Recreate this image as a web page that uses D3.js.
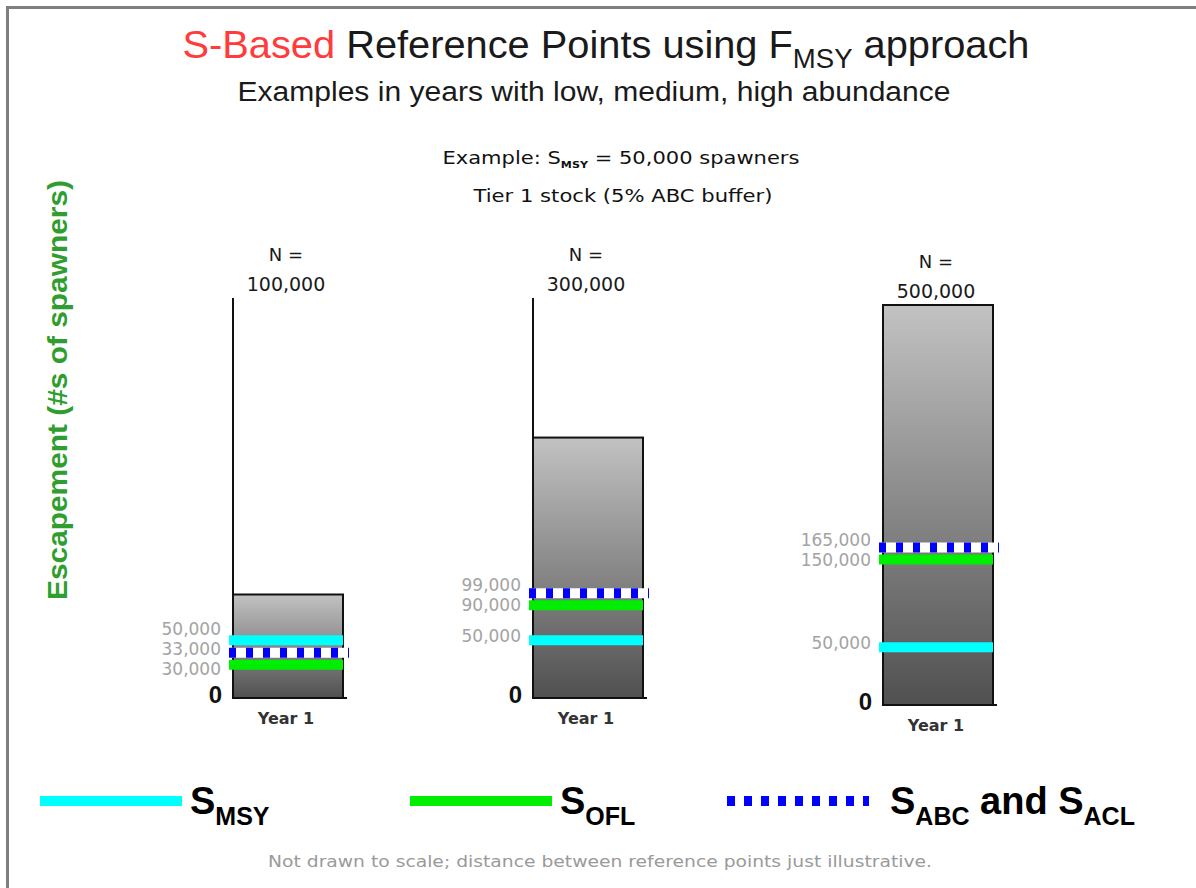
<!DOCTYPE html>
<html>
<head>
<meta charset="utf-8">
<script src="https://cdn.jsdelivr.net/npm/d3@7"></script>
<style>
    html, body { margin: 0; padding: 0; background: #fff; }
    svg { display: block; }
</style>
</head>
<body>
<svg id="chart" width="1196" height="888"></svg>
<script>
// data
var abundance = [100000, 300000, 500000];
var sMSY = [50000, 50000, 50000];
var sOFL = [30000, 90000, 150000];
var sABC = [33000, 99000, 165000];
var yearLabels = ["Year 1", "Year 1", "Year 1"];
var legendKeys = ["MSY", "OFL", "ABC"];

// layout
var panelLeft = [233, 533, 883],
    panelBase = [698, 698, 705],
    barWidth = 110,
    axisHeight = 400,
    fmt = d3.format(",");

var svg = d3.select("#chart");

// frame
svg.append("path")
    .attr("d", "M7.5,888V7.5H1196")
    .style("fill", "none")
    .style("stroke", "#7f7f7f")
    .style("stroke-width", 3);

// titles
var title = svg.append("text")
    .attr("x", 606)
    .attr("y", 58)
    .attr("text-anchor", "middle")
    .attr("textLength", 847)
    .attr("lengthAdjust", "spacingAndGlyphs")
    .style("font-family", "Liberation Sans, Arial, sans-serif")
    .style("font-size", "39px")
    .style("fill", "#1a1a1a");
title.append("tspan").style("fill", "#ff3b3b").text("S-Based");
title.append("tspan").text(" Reference Points using F");
title.append("tspan").attr("dy", 10).style("font-size", "27px").text("MSY");
title.append("tspan").attr("dy", -10).text(" approach");

svg.append("text")
    .attr("x", 594)
    .attr("y", 101)
    .attr("text-anchor", "middle")
    .attr("textLength", 713)
    .attr("lengthAdjust", "spacingAndGlyphs")
    .style("font-family", "Liberation Sans, Arial, sans-serif")
    .style("font-size", "27px")
    .style("fill", "#1a1a1a")
    .text("Examples in years with low, medium, high abundance");

var ex = svg.append("text")
    .attr("x", 621)
    .attr("y", 164)
    .attr("text-anchor", "middle")
    .attr("textLength", 357)
    .attr("lengthAdjust", "spacingAndGlyphs")
    .style("font-family", "DejaVu Sans, sans-serif")
    .style("font-size", "17px")
    .style("fill", "#111");
ex.append("tspan").text("Example:  S");
ex.append("tspan").attr("dy", 4).style("font-size", "9px").style("font-weight", "bold").text("MSY");
ex.append("tspan").attr("dy", -4).text(" = " + fmt(sMSY[0]) + " spawners");

svg.append("text")
    .attr("x", 623)
    .attr("y", 202)
    .attr("text-anchor", "middle")
    .attr("textLength", 299)
    .attr("lengthAdjust", "spacingAndGlyphs")
    .style("font-family", "DejaVu Sans, sans-serif")
    .style("font-size", "17px")
    .style("fill", "#111")
    .text("Tier 1 stock (5% ABC buffer)");

svg.append("text")
    .attr("transform", "translate(67,390) rotate(-90)")
    .attr("text-anchor", "middle")
    .attr("textLength", 420)
    .attr("lengthAdjust", "spacingAndGlyphs")
    .style("font-family", "Liberation Sans, Arial, sans-serif")
    .style("font-weight", "bold")
    .style("font-size", "28px")
    .style("fill", "#2f9e2f")
    .text("Escapement (#s of spawners)");

// bar gradient
var grad = svg.append("defs").append("linearGradient")
    .attr("id", "barFill")
    .attr("x1", 0).attr("y1", 0).attr("x2", 0).attr("y2", 1);
grad.append("stop").attr("offset", "0%").attr("stop-color", "#c2c2c2");
grad.append("stop").attr("offset", "100%").attr("stop-color", "#505050");

// not drawn to scale: a shared power scale keeps the illustrative spacing
var h = d3.scalePow()
    .exponent(0.84)
    .domain([0, d3.max(abundance)])
    .range([0, axisHeight]);

var lineStyle = {
    MSY: {color: "#00ffff", ext: 0},
    OFL: {color: "#00ee00", ext: 0},
    ABC: {color: "#0000ff", ext: 6}
};

// push apart items that sit closer than gap (pixel y)
function spread(items, gap) {
    items.sort(function (a, b) { return a.y - b.y; });
    for (var it = 0; it < 60; it++) {
        for (var i = 1; i < items.length; i++) {
            var d = items[i].y - items[i - 1].y;
            if (d < gap) {
                var m = (gap - d) / 2;
                items[i - 1].y -= m;
                items[i].y += m;
            }
        }
    }
    return items;
}

abundance.forEach(function (n, i) {
    var x0 = panelLeft[i],
        base = panelBase[i],
        cx = x0 + barWidth / 2,
        g = svg.append("g");

    var y = function (v) { return base - h(v); };

    // vertical axis
    g.append("line")
        .attr("x1", x0).attr("x2", x0)
        .attr("y1", y(d3.max(abundance))).attr("y2", base)
        .style("stroke", "#111")
        .style("stroke-width", 2);

    g.append("rect")
        .attr("x", x0)
        .attr("y", y(n))
        .attr("width", barWidth)
        .attr("height", h(n))
        .style("fill", "url(#barFill)")
        .style("stroke", "#111")
        .style("stroke-width", 2);

    g.append("line")
        .attr("x1", x0 + barWidth).attr("x2", x0 + barWidth + 4)
        .attr("y1", base).attr("y2", base)
        .style("stroke", "#111")
        .style("stroke-width", 2);

    var refs = [
        {key: "MSY", v: sMSY[i]},
        {key: "OFL", v: sOFL[i]},
        {key: "ABC", v: sABC[i]}
    ];
    refs.forEach(function (r) { r.y = y(r.v); });
    spread(refs, 12);

    refs.forEach(function (r) {
        var st = lineStyle[r.key];
        var x1 = x0 - 4, x2 = x0 + barWidth + st.ext;
        if (r.key === "ABC") {
            g.append("line")
                .attr("x1", x1).attr("x2", x2).attr("y1", r.y).attr("y2", r.y)
                .style("stroke", "#fff").style("stroke-width", 10);
            g.append("line")
                .attr("x1", x1).attr("x2", x2).attr("y1", r.y).attr("y2", r.y)
                .style("stroke", st.color).style("stroke-width", 10)
                .style("stroke-dasharray", "7,10");
        } else {
            g.append("line")
                .attr("x1", x1).attr("x2", x2).attr("y1", r.y).attr("y2", r.y)
                .style("stroke", st.color).style("stroke-width", 10);
        }
    });

    var labels = refs.map(function (r) { return {y: r.y - 4, v: r.v}; });
    spread(labels, 20);
    g.selectAll(".val")
        .data(labels)
        .enter().append("text")
        .attr("class", "val")
        .attr("x", x0 - 12)
        .attr("y", function (d) { return d.y; })
        .attr("dy", "0.36em")
        .attr("text-anchor", "end")
        .style("font-family", "DejaVu Sans, sans-serif")
        .style("font-size", "17px")
        .style("fill", "#a3a3a3")
        .text(function (d) { return fmt(d.v); });

    g.append("text")
        .attr("x", x0 - 11)
        .attr("y", y(0) + 5)
        .attr("text-anchor", "end")
        .style("font-family", "Liberation Sans, Arial, sans-serif")
        .style("font-weight", "bold")
        .style("font-size", "24px")
        .style("fill", "#111")
        .text("0");

    var top = y(d3.max(abundance));
    g.append("text")
        .attr("x", cx - 2)
        .attr("y", top - 37)
        .attr("text-anchor", "middle")
        .style("font-family", "DejaVu Sans, sans-serif")
        .style("font-size", "18px")
        .style("fill", "#1a1a1a")
        .text("N =");
    g.append("text")
        .attr("x", cx - 2)
        .attr("y", top - 7)
        .attr("text-anchor", "middle")
        .style("font-family", "DejaVu Sans, sans-serif")
        .style("font-size", "19px")
        .style("fill", "#1a1a1a")
        .text(fmt(n));

    g.append("text")
        .attr("x", cx - 2)
        .attr("y", base + 26)
        .attr("text-anchor", "middle")
        .style("font-family", "DejaVu Sans, sans-serif")
        .style("font-size", "16px")
        .style("font-weight", "bold")
        .style("fill", "#333")
        .text(yearLabels[i]);
});

// legend
var legendX = [40, 410, 727],
    legendY = 801,
    legendText = [
        [["S", ""], ["MSY", "sub"]],
        [["S", ""], ["OFL", "sub"]],
        [["S", ""], ["ABC", "sub"], [" and S", ""], ["ACL", "sub"]]
    ];

legendKeys.forEach(function (k, i) {
    var st = lineStyle[k];
    var lg = svg.append("g").attr("transform", "translate(" + legendX[i] + "," + legendY + ")");
    lg.append("line")
        .attr("x1", 0).attr("x2", 142)
        .style("stroke", st.color)
        .style("stroke-width", 10)
        .style("stroke-dasharray", k === "ABC" ? "8,9" : null);
    var t = lg.append("text")
        .attr("x", k === "ABC" ? 163 : 150)
        .attr("y", 13)
        .style("font-family", "Liberation Sans, Arial, sans-serif")
        .style("font-weight", "bold")
        .style("font-size", "38px")
        .style("fill", "#000");
    var shift = 0;
    legendText[i].forEach(function (p) {
        var dy = p[1] === "sub" ? 11 - shift : -shift;
        shift = p[1] === "sub" ? 11 : 0;
        t.append("tspan")
            .attr("dy", dy)
            .style("font-size", p[1] === "sub" ? "25px" : "38px")
            .text(p[0]);
    });
});

svg.append("text")
    .attr("x", 600)
    .attr("y", 867)
    .attr("text-anchor", "middle")
    .attr("textLength", 664)
    .attr("lengthAdjust", "spacingAndGlyphs")
    .style("font-family", "DejaVu Sans, sans-serif")
    .style("font-size", "15px")
    .style("fill", "#9a9a9a")
    .text("Not drawn to scale; distance between reference points just illustrative.");
</script>
</body>
</html>
